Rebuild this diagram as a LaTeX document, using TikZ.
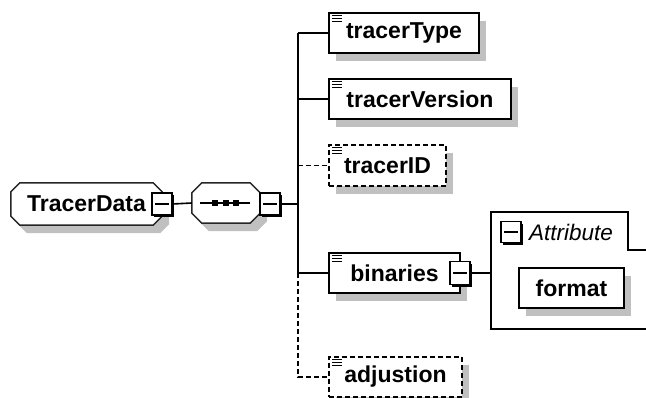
\documentclass[tikz,border=0pt]{standalone}
\usepackage{fontspec}
\setmainfont{Liberation Sans}
\usetikzlibrary{shadows,calc,backgrounds}
\definecolor{shd}{RGB}{192,192,192}
\newcommand{\octapath}[4]{%
  ($(#1.north west)+(#2+#3,#4)$) -- ($(#1.north east)+(-#2+#3,#4)$) -- ($(#1.north east)+(#3,#2+#4)$) --
  ($(#1.south east)+(#3,-#2+#4)$) -- ($(#1.south east)+(-#2+#3,#4)$) -- ($(#1.south west)+(#2+#3,#4)$) --
  ($(#1.south west)+(#3,-#2+#4)$) -- ($(#1.north west)+(#3,#2+#4)$) -- cycle}
\newcommand{\octadraw}[2]{%
  \begin{scope}[on background layer]
    \fill[shd] \octapath{#1}{#2}{7}{8};
    \filldraw[fill=white, draw=black!85, line width=1.5pt] \octapath{#1}{#2}{0}{0};
  \end{scope}}
\newcommand{\elemicon}[1]{%
  \foreach \d in {3.5,6.5,9.5} \draw[line width=1.4pt] ($(#1.north west)+(4,\d)$) -- +(10,0);}
\begin{document}
\begin{tikzpicture}[x=1pt,y=-1pt,
  shadowed/.style={drop shadow={fill=shd, shadow xshift=7pt, shadow yshift=-8pt, opacity=1}},
  txt/.style={font=\bfseries\fontsize{23}{25}\selectfont},
  elem/.style={rectangle, draw=black, line width=1.6pt, fill=white, minimum height=40pt, inner sep=0pt, txt, shadowed},
  optelem/.style={elem, dash pattern=on 5pt off 3pt},
  octnode/.style={rectangle, inner sep=0pt, txt},
  minusbox/.style={rectangle, draw=black, fill=white, line width=1.3pt, minimum width=20pt, minimum height=22pt, inner sep=0pt,
     drop shadow={fill=black, shadow xshift=2.2pt, shadow yshift=-2.2pt, opacity=1},
     path picture={\draw[line width=1.3pt] ($(path picture bounding box.center)+(-7,0)$) -- ++(14,0);}},
  conn/.style={line width=1.6pt},
  optconn/.style={conn, dash pattern=on 5pt off 3pt}]
\useasboundingbox (0,0) rectangle (646,398);
\coordinate (trunkx) at (298,0);

% root element
\node[octnode, minimum width=151pt, minimum height=42pt] (td) at (86.5,204) {TracerData\hspace{17pt}};
\octadraw{td}{9}
\node[minusbox] (tdm) at (162,204) {};

% sequence compositor
\node[octnode, minimum width=68pt, minimum height=40pt] (seq) at (226,203) {};
\octadraw{seq}{10}
\draw[line width=1.5pt] (200,203) -- (250,203);
\foreach \xx in {215,225.5,236} \fill (\xx-3,200) rectangle (\xx+3,206);
\node[minusbox] (seqm) at (270,204) {};

% children
\node[elem, minimum width=150pt] (ttype) at (404,33) {tracerType};
\node[elem, minimum width=182pt] (tver) at (420,99) {tracerVersion};
\node[optelem, minimum width=117pt, minimum height=41pt] (tid) at (387.5,165.5) {tracerID};
\node[elem, minimum width=131pt] (bin) at (394.5,273) {binaries\hspace{5pt}};
\node[optelem, minimum width=133pt] (adj) at (395.5,377) {adjustion};
\foreach \n in {ttype,tver,tid,bin,adj} {\elemicon{\n}}
\node[minusbox, minimum height=23pt] (binm) at (460,273) {};

% attribute group
\coordinate (attrL) at (491,273);
\draw[conn] (646,329) -- (491,329) -- (491,212) -- (628,212) -- (628,250) -- (646,250);
\node[minusbox, minimum height=21pt] (atm) at (511,232) {};
\node[anchor=west, inner sep=0pt, font=\itshape\fontsize{22.5}{25}\selectfont] (attl) at (529,232) {Attribute};
\node[elem, minimum width=105pt] (fmt) at (571.5,288) {format};

% connectors
\draw[conn] (tdm.east) -- (seq.west);
\draw[conn] (seqm.east) -- (seqm.east -| trunkx);
\draw[conn] (ttype.west -| trunkx) -- (bin.west -| trunkx);
\draw[optconn] (bin.west -| trunkx) -- (adj.west -| trunkx) -- (adj.west);
\draw[conn] (ttype.west -| trunkx) -- (ttype.west);
\draw[conn] (tver.west -| trunkx) -- (tver.west);
\draw[optconn] (tid.west -| trunkx) -- (tid.west);
\draw[conn] (bin.west -| trunkx) -- (bin.west);
\draw[conn] (binm.east) -- (attrL);
\end{tikzpicture}
\end{document}
